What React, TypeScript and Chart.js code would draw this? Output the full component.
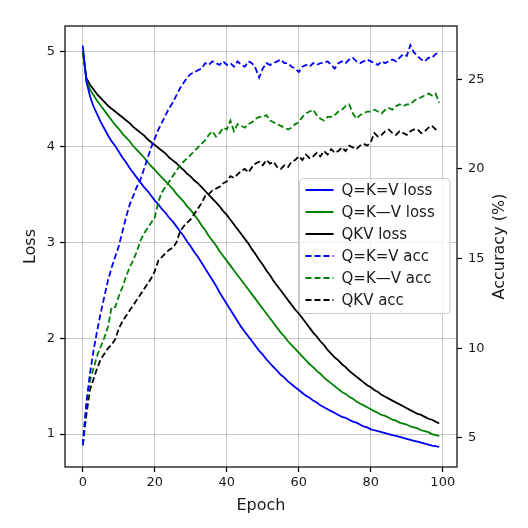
import { useEffect, useRef } from "react"
import { Chart, registerables } from "chart.js"

Chart.register(...registerables)

const FONT = '"DejaVu Sans", sans-serif'

// epochs 0..99
const epochs = Array.from({ length: 100 }, (_, i) => i)
const xTicks = [0, 20, 40, 60, 80, 100]
const lossTicks = [1, 2, 3, 4, 5]
const accTicks = [5, 10, 15, 20, 25]

const lossQeqKeqV = [
  5.06, 4.68, 4.53, 4.42, 4.34, 4.26, 4.19, 4.12, 4.06, 4.01,
  3.95, 3.89, 3.84, 3.78, 3.73, 3.68, 3.63, 3.58, 3.54, 3.49,
  3.44, 3.4, 3.35, 3.31, 3.26, 3.22, 3.17, 3.12, 3.07, 3.01,
  2.96, 2.9, 2.85, 2.79, 2.73, 2.67, 2.61, 2.55, 2.48, 2.42,
  2.36, 2.3, 2.24, 2.18, 2.12, 2.07, 2.02, 1.97, 1.92, 1.87,
  1.83, 1.78, 1.74, 1.7, 1.66, 1.62, 1.59, 1.55, 1.52, 1.49,
  1.46, 1.43, 1.4, 1.38, 1.35, 1.33, 1.3, 1.28, 1.26, 1.24,
  1.22, 1.2, 1.18, 1.17, 1.15, 1.13, 1.12, 1.1, 1.08, 1.07,
  1.05, 1.04, 1.03, 1.02, 1.01, 1.0, 0.99, 0.98, 0.97, 0.96,
  0.95, 0.94, 0.93, 0.92, 0.91, 0.9, 0.89, 0.88, 0.875, 0.865,
]

const lossQeqKminusV = [
  5.0, 4.7, 4.6, 4.54, 4.48, 4.43, 4.38, 4.33, 4.28, 4.23,
  4.19, 4.14, 4.1, 4.06, 4.01, 3.97, 3.93, 3.89, 3.84, 3.8,
  3.76, 3.72, 3.68, 3.64, 3.6, 3.56, 3.51, 3.47, 3.43, 3.38,
  3.34, 3.29, 3.24, 3.18, 3.13, 3.07, 3.02, 2.97, 2.91, 2.86,
  2.81, 2.76, 2.71, 2.66, 2.61, 2.56, 2.51, 2.46, 2.41, 2.36,
  2.31, 2.26, 2.21, 2.16, 2.11, 2.06, 2.02, 1.97, 1.93, 1.89,
  1.85, 1.81, 1.77, 1.73, 1.7, 1.66, 1.63, 1.59, 1.56, 1.53,
  1.5, 1.47, 1.44, 1.42, 1.39, 1.37, 1.34, 1.32, 1.3, 1.28,
  1.26, 1.24, 1.22, 1.2, 1.19, 1.17, 1.15, 1.14, 1.12, 1.11,
  1.1, 1.08, 1.07, 1.06, 1.04, 1.03, 1.02, 1.0, 0.99, 0.98,
]

const lossQKV = [
  5.0, 4.72, 4.65, 4.6, 4.55, 4.51, 4.47, 4.43, 4.4, 4.37,
  4.34, 4.31, 4.28, 4.25, 4.21, 4.18, 4.15, 4.12, 4.08, 4.05,
  4.02, 3.99, 3.96, 3.93, 3.89, 3.86, 3.83, 3.79, 3.76, 3.72,
  3.69, 3.65, 3.62, 3.58, 3.54, 3.5, 3.46, 3.42, 3.38, 3.33,
  3.29, 3.24, 3.19, 3.14, 3.09, 3.04, 2.99, 2.93, 2.88, 2.82,
  2.77, 2.71, 2.66, 2.6, 2.55, 2.5, 2.45, 2.4, 2.35, 2.3,
  2.26, 2.21, 2.16, 2.11, 2.06, 2.02, 1.97, 1.93, 1.88, 1.84,
  1.8, 1.77, 1.73, 1.7, 1.66, 1.63, 1.6, 1.57, 1.54, 1.51,
  1.49, 1.46, 1.44, 1.41, 1.39, 1.37, 1.35, 1.33, 1.31, 1.29,
  1.27, 1.25, 1.23, 1.21, 1.2, 1.18, 1.16, 1.15, 1.13, 1.11,
]

const accQeqKeqV = [
  4.6, 7.0, 8.6, 9.9, 11.0, 12.0, 12.9, 13.8, 14.5, 15.1,
  15.7, 16.5, 17.3, 18.0, 18.5, 19.0, 19.4, 20.0, 20.6, 21.2,
  21.7, 22.2, 22.6, 23.0, 23.4, 23.7, 24.1, 24.5, 24.8, 25.1,
  25.3, 25.4, 25.5, 25.6, 25.9, 25.8, 26.0, 25.9, 25.8, 26.0,
  25.8, 25.9, 25.7, 26.0, 25.8, 25.7, 26.0, 25.9, 25.6, 25.1,
  25.6, 25.9, 25.8, 25.9, 26.0, 26.1, 25.9, 25.9, 25.7, 25.6,
  25.4, 25.7, 25.8, 25.7, 25.9, 25.8, 25.9, 25.9, 26.0, 25.8,
  25.6, 25.9, 26.0, 25.9, 26.1, 26.2, 26.0, 25.9, 26.0, 26.1,
  26.0, 25.9, 25.8, 26.0, 25.9, 26.0, 26.1, 26.0, 26.2, 26.4,
  26.3, 26.9, 26.5, 26.3, 26.1, 26.0, 26.2, 26.2, 26.4, 26.5,
]

const accQeqKminusV = [
  4.6, 6.8, 8.2, 8.9, 9.6, 10.1, 10.6, 11.2, 12.3, 12.3,
  12.9, 13.4, 14.0, 14.5, 14.9, 15.4, 16.0, 16.4, 16.7, 17.0,
  17.3, 18.2, 18.7, 19.0, 19.3, 19.6, 19.9, 20.2, 20.4, 20.6,
  20.8, 21.0, 21.2, 21.4, 21.6, 21.9, 22.1, 21.8, 22.0, 22.3,
  22.2, 22.7, 22.1, 22.5, 22.4, 22.3, 22.5, 22.6, 22.8, 22.9,
  22.9, 23.0, 22.7, 22.6, 22.5, 22.4, 22.3, 22.2, 22.3, 22.5,
  22.6, 22.9, 23.1, 23.2, 23.3, 23.0, 22.8, 22.7, 22.9, 22.9,
  23.0, 23.2, 23.3, 23.5, 23.6, 23.1, 22.8, 23.0, 23.1, 23.2,
  23.2, 23.3, 23.2, 23.1, 23.3, 23.4, 23.3, 23.5, 23.6, 23.5,
  23.6, 23.6, 23.8, 23.9, 24.0, 24.1, 24.2, 24.1, 24.2, 23.7,
]

const accQKV = [
  4.6, 6.3, 7.7, 8.3, 8.9, 9.4, 9.7, 10.0, 10.2, 10.5,
  11.1, 11.5, 11.8, 12.1, 12.4, 12.7, 13.0, 13.3, 13.6, 13.9,
  14.3, 14.9, 15.1, 15.3, 15.5, 15.6, 15.9, 16.5, 16.8, 17.0,
  17.2, 17.5, 17.8, 18.1, 18.5, 18.6, 18.8, 18.9, 19.0, 19.2,
  19.3, 19.6, 19.5, 19.7, 19.9, 20.0, 19.8, 20.1, 20.3, 20.4,
  20.2, 20.5, 20.3, 20.4, 20.1, 20.0, 20.2, 20.1, 20.4, 20.5,
  20.7, 20.5, 20.8, 20.6, 20.7, 20.9, 20.7, 21.0, 20.8, 21.1,
  20.9, 21.0, 21.2, 21.0, 21.3, 21.2, 21.1, 21.3, 21.4, 21.3,
  21.5, 22.0, 21.8, 21.9, 22.1, 22.2, 22.0, 21.9, 22.1, 22.0,
  21.9, 22.1, 22.2, 22.2, 22.0, 22.1, 22.3, 22.4, 22.2, 22.3,
]

const toPoints = (values: number[]) => values.map((v, i) => ({ x: epochs[i], y: v }))

const DASH = [6, 3]

// frame, axis titles and the in-plot legend (matplotlib style)
const decorPlugin = {
  id: "decor",
  afterDraw(chart: Chart) {
    const { ctx, chartArea: a } = chart
    ctx.save()

    ctx.strokeStyle = "#000"
    ctx.lineWidth = 1.2
    ctx.setLineDash([])
    ctx.strokeRect(a.left, a.top, a.right - a.left, a.bottom - a.top)

    ctx.fillStyle = "#1a1a1a"
    ctx.font = `16px ${FONT}`
    ctx.textAlign = "center"
    ctx.textBaseline = "middle"
    ctx.fillText("Epoch", (a.left + a.right) / 2, a.bottom + 39)

    ctx.save()
    ctx.translate(31, (a.top + a.bottom) / 2)
    ctx.rotate(-Math.PI / 2)
    ctx.fillText("Loss", 0, 0)
    ctx.restore()

    ctx.save()
    ctx.translate(a.right + 43, (a.top + a.bottom) / 2)
    ctx.rotate(-Math.PI / 2)
    ctx.fillText("Accuracy (%)", 0, 0)
    ctx.restore()

    // legend box
    const bx = a.right - 157.5
    const by = a.top + 152.5
    const bw = 150.5
    const bh = 135
    ctx.beginPath()
    ctx.roundRect(bx, by, bw, bh, 4)
    ctx.fillStyle = "rgba(255,255,255,0.8)"
    ctx.fill()
    ctx.strokeStyle = "#cccccc"
    ctx.lineWidth = 1
    ctx.stroke()

    ctx.font = `15px ${FONT}`
    ctx.textAlign = "left"
    chart.data.datasets.forEach((ds: any, i: number) => {
      const y = by + 11.5 + i * 22
      ctx.beginPath()
      ctx.setLineDash(ds.borderDash || [])
      ctx.strokeStyle = ds.borderColor
      ctx.lineWidth = 2
      ctx.moveTo(bx + 6, y)
      ctx.lineTo(bx + 34, y)
      ctx.stroke()
      ctx.setLineDash([])
      ctx.fillStyle = "#1a1a1a"
      ctx.fillText(ds.label, bx + 42, y + 1)
    })

    ctx.restore()
  },
}

const tickFont = { family: FONT, size: 13 }

export default function App() {
  const canvasRef = useRef<HTMLCanvasElement>(null)

  useEffect(() => {
    if (!canvasRef.current) return
    const chart = new Chart(canvasRef.current, {
      type: "line",
      data: {
        datasets: [
          { label: "Q=K=V loss", data: toPoints(lossQeqKeqV), yAxisID: "yLoss", borderColor: "#0000ff", order: 2 },
          { label: "Q=K\u2014V loss", data: toPoints(lossQeqKminusV), yAxisID: "yLoss", borderColor: "#008000", order: 2 },
          { label: "QKV loss", data: toPoints(lossQKV), yAxisID: "yLoss", borderColor: "#000000", order: 2 },
          { label: "Q=K=V acc", data: toPoints(accQeqKeqV), yAxisID: "yAcc", borderColor: "#0000ff", borderDash: DASH, order: 1 },
          { label: "Q=K\u2014V acc", data: toPoints(accQeqKminusV), yAxisID: "yAcc", borderColor: "#008000", borderDash: DASH, order: 1 },
          { label: "QKV acc", data: toPoints(accQKV), yAxisID: "yAcc", borderColor: "#000000", borderDash: DASH, order: 1 },
        ],
      },
      options: {
        responsive: true,
        maintainAspectRatio: false,
        animation: false,
        layout: { padding: { top: 26, left: 0, right: 0, bottom: 0 } },
        elements: {
          line: { borderWidth: 1.8, tension: 0, fill: false },
          point: { radius: 0, hoverRadius: 0 },
        },
        plugins: { legend: { display: false }, tooltip: { enabled: false } },
        scales: {
          x: {
            type: "linear",
            min: -4.95,
            max: 103.95,
            afterBuildTicks: (s: any) => {
              s.ticks = xTicks.map((v) => ({ value: v }))
            },
            afterFit: (s: any) => {
              s.height = 61
              s.paddingLeft = 0
              s.paddingRight = 0
            },
            border: { display: false },
            grid: { color: "#c8c8c8", lineWidth: 1, tickLength: 5, tickColor: "#000", tickWidth: 1.2 },
            ticks: { font: tickFont, color: "#1a1a1a", padding: 3, maxRotation: 0, autoSkip: false },
          },
          yLoss: {
            type: "linear",
            position: "left",
            min: 0.656,
            max: 5.264,
            afterBuildTicks: (s: any) => {
              s.ticks = lossTicks.map((v) => ({ value: v }))
            },
            afterFit: (s: any) => {
              s.width = 65
              s.paddingTop = 0
              s.paddingBottom = 0
            },
            border: { display: false },
            grid: { color: "#c8c8c8", lineWidth: 1, tickLength: 5, tickColor: "#000", tickWidth: 1.2 },
            ticks: { font: tickFont, color: "#1a1a1a", padding: 5, autoSkip: false },
          },
          yAcc: {
            type: "linear",
            position: "right",
            min: 3.38,
            max: 27.97,
            afterBuildTicks: (s: any) => {
              s.ticks = accTicks.map((v) => ({ value: v }))
            },
            afterFit: (s: any) => {
              s.width = 71
              s.paddingTop = 0
              s.paddingBottom = 0
            },
            border: { display: false },
            grid: { drawOnChartArea: false, tickLength: 5, tickColor: "#000", tickWidth: 1.2 },
            ticks: { font: tickFont, color: "#1a1a1a", padding: 6, autoSkip: false },
          },
        },
      },
      plugins: [decorPlugin],
    })
    return () => chart.destroy()
  }, [])

  return (
    <div style={{ position: "fixed", left: 0, top: 0, width: 528, height: 528, background: "#fff" }}>
      <canvas ref={canvasRef} />
    </div>
  )
}
